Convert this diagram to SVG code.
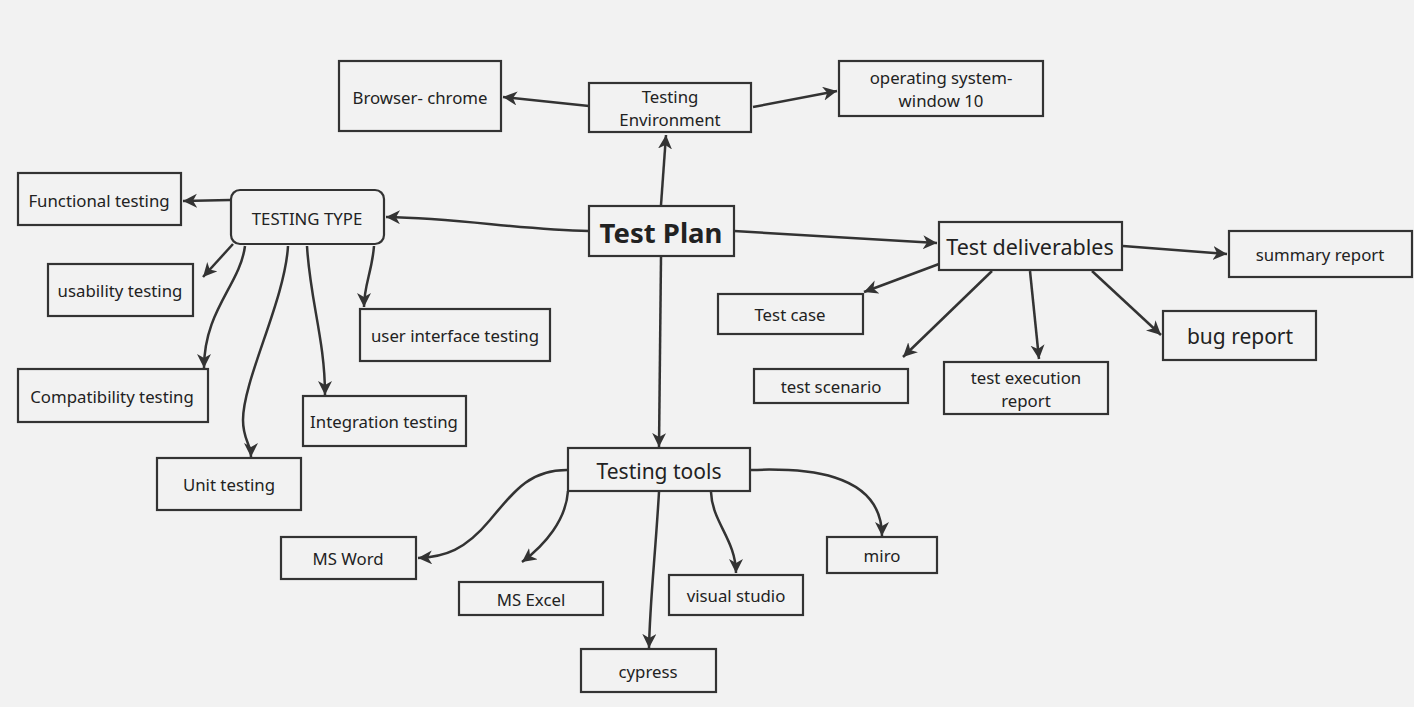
<svg xmlns="http://www.w3.org/2000/svg" width="1414" height="707" viewBox="0 0 1414 707">
<defs>
<marker id="ah" markerUnits="userSpaceOnUse" markerWidth="18" markerHeight="18" refX="14" refY="7" orient="auto">
<path d="M0,0 L14,7 L0,14 L4,7 z" fill="#333"/>
</marker>
<style>
.n rect{fill:#f2f2f2;stroke:#333;stroke-width:2.2}
.n text{font-family:"Noto Sans","Open Sans","DejaVu Sans",sans-serif;fill:#222;text-anchor:middle;dominant-baseline:central;font-size:16.8px}
.e path{fill:none;stroke:#333;stroke-width:2.5;marker-end:url(#ah)}
</style>
</defs>
<rect x="0" y="0" width="1414" height="707" fill="#f2f2f2"/>
<g class="e" id="connectors">
<path d="M589,106 L503,97"/>
<path d="M753,107 L837,91"/>
<path d="M661,205 L666,135"/>
<path d="M589,231 C520,230 460,218 386,217"/>
<path d="M734,231 L937,243"/>
<path d="M661,257 L659,447"/>
<path d="M230,200 L183,201"/>
<path d="M233,244 L203,277"/>
<path d="M245,246 C240,285 204,310 204,368"/>
<path d="M288,246 C285,300 243,380 243,420 C243,440 251,444 251,457"/>
<path d="M307,246 C310,300 325,340 325,395"/>
<path d="M374,246 C372,272 364,285 364,307"/>
<path d="M1123,246 L1227,254"/>
<path d="M939,264 L864,292"/>
<path d="M992,271 L903,357"/>
<path d="M1030,271 L1039,359"/>
<path d="M1092,271 L1161,335"/>
<path d="M567,470 C530,470 515,490 490,520 C465,550 445,557 418,558"/>
<path d="M568,491 C566,520 545,545 522,562"/>
<path d="M659,492 C655,560 650,600 649,648"/>
<path d="M711,492 C712,522 736,540 736,573"/>
<path d="M750,470 C800,468 882,470 882,536"/>
</g>
<g class="n" id="browser"><rect x="339" y="61" width="162" height="70"/><text x="420" y="97">Browser- chrome</text></g>
<g class="n" id="testing-env"><rect x="589" y="83" width="162" height="49"/><text x="670" y="96">Testing</text><text x="670" y="119">Environment</text></g>
<g class="n" id="os"><rect x="839" y="61" width="204" height="55"/><text x="941" y="77">operating system-</text><text x="941" y="100">window 10</text></g>
<g class="n" id="functional"><rect x="18" y="173" width="163" height="52"/><text x="99" y="200">Functional testing</text></g>
<g class="n" id="testing-type"><rect x="231" y="190" width="153" height="54" rx="9"/><text x="307" y="218">TESTING TYPE</text></g>
<g class="n" id="test-plan"><rect x="589" y="206" width="145" height="50"/><text x="661" y="232" style="font-size:27.5px;font-weight:bold">Test Plan</text></g>
<g class="n" id="test-deliverables"><rect x="939" y="222" width="183" height="48"/><text x="1030" y="246" style="font-size:21.5px">Test deliverables</text></g>
<g class="n" id="summary"><rect x="1229" y="231" width="183" height="46"/><text x="1320" y="254">summary report</text></g>
<g class="n" id="usability"><rect x="48" y="264" width="145" height="52"/><text x="120" y="290">usability testing</text></g>
<g class="n" id="test-case"><rect x="718" y="294" width="145" height="40"/><text x="790" y="314">Test case</text></g>
<g class="n" id="ui-testing"><rect x="360" y="309" width="190" height="52"/><text x="455" y="335">user interface testing</text></g>
<g class="n" id="bug-report"><rect x="1163" y="311" width="153" height="49"/><text x="1240" y="336" style="font-size:21px">bug report</text></g>
<g class="n" id="test-scenario"><rect x="754" y="369" width="154" height="34"/><text x="831" y="386">test scenario</text></g>
<g class="n" id="test-exec"><rect x="944" y="362" width="164" height="52"/><text x="1026" y="377">test execution</text><text x="1026" y="400">report</text></g>
<g class="n" id="compat"><rect x="18" y="369" width="190" height="53"/><text x="112" y="396">Compatibility testing</text></g>
<g class="n" id="integration"><rect x="303" y="396" width="163" height="50"/><text x="384" y="421">Integration testing</text></g>
<g class="n" id="unit"><rect x="157" y="458" width="144" height="52"/><text x="229" y="484">Unit testing</text></g>
<g class="n" id="testing-tools"><rect x="568" y="448" width="182" height="43"/><text x="659" y="471" style="font-size:21px">Testing tools</text></g>
<g class="n" id="ms-word"><rect x="281" y="537" width="135" height="42"/><text x="348" y="558">MS Word</text></g>
<g class="n" id="miro"><rect x="827" y="537" width="110" height="36"/><text x="882" y="555">miro</text></g>
<g class="n" id="visual-studio"><rect x="669" y="575" width="134" height="40"/><text x="736" y="595">visual studio</text></g>
<g class="n" id="ms-excel"><rect x="459" y="582" width="144" height="33"/><text x="531" y="599">MS Excel</text></g>
<g class="n" id="cypress"><rect x="581" y="649" width="135" height="43"/><text x="648" y="671">cypress</text></g>
</svg>
